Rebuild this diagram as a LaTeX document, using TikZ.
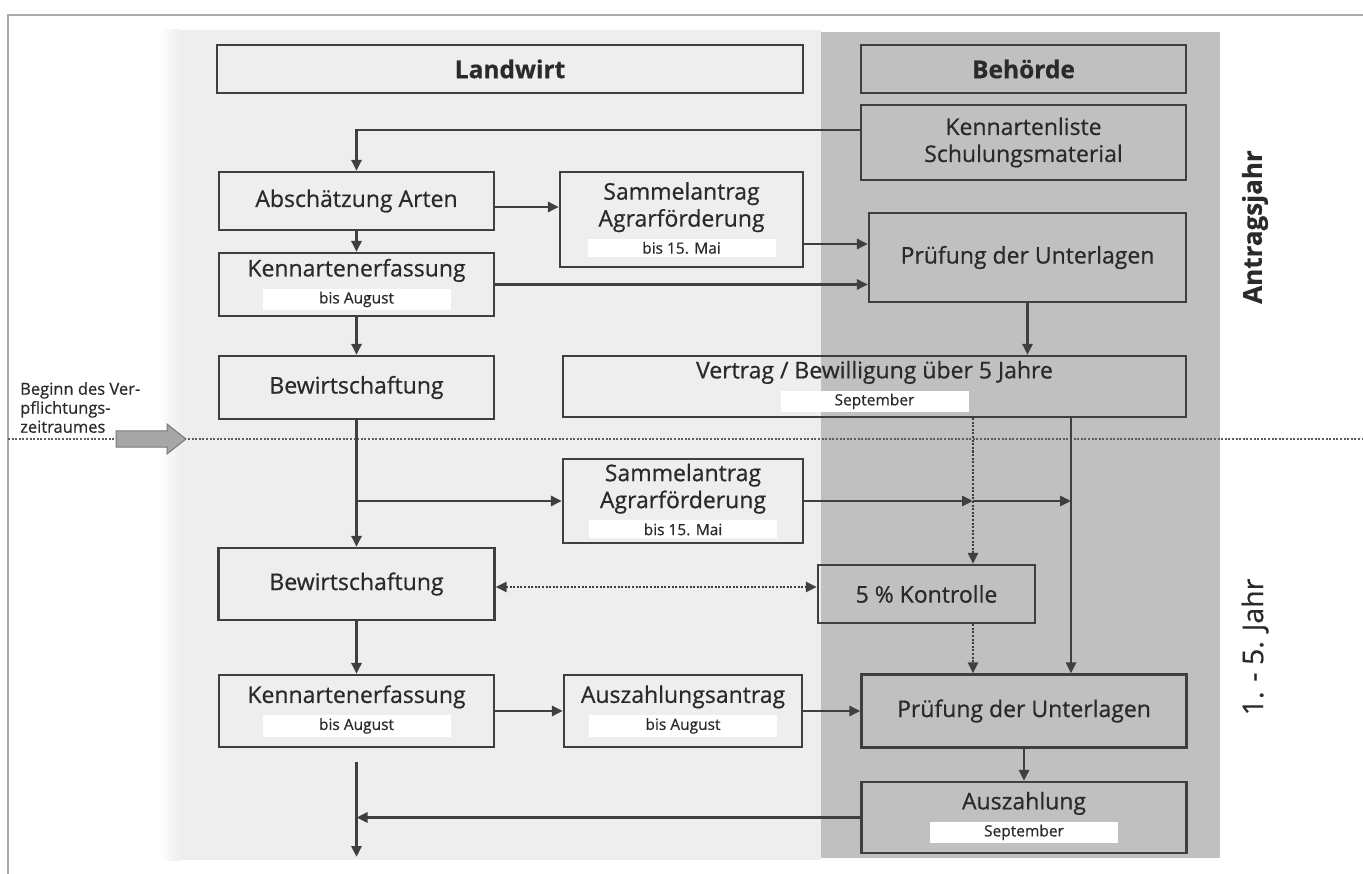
\documentclass[tikz,border=0pt]{standalone}
\usepackage{fontspec}
\setmainfont{Open Sans}[RawFeature={embolden=0.6}]
\usetikzlibrary{positioning, arrows.meta}

\definecolor{landgrau}{HTML}{EEEEEE}
\definecolor{amtgrau}{HTML}{C0C0C0}
\definecolor{linie}{HTML}{3F3F3F}
\definecolor{schrift}{HTML}{2A2A2A}
\definecolor{rahmen}{HTML}{ABABAB}
\definecolor{pfeilgrau}{HTML}{A6A6A6}

% weisser Balken fuer Termine
\newcommand{\datum}[1]{\colorbox{white}{\makebox[182pt]{\fontsize{15.5}{17}\selectfont #1}}}

\begin{document}
\begin{tikzpicture}[x=1pt,y=-1pt,on grid,
	box/.style={draw=linie,line width=2.2pt,text=schrift,align=center,inner sep=2pt,
		font=\fontsize{23}{27}\selectfont},
	kopf/.style={box,minimum height=48pt,font=\bfseries\fontsize{24.5}{28}\selectfont},
	flow/.style={draw=linie,line width=2.8pt,-{Triangle[length=11pt,width=10pt]}},
	dotflow/.style={flow,line width=2.4pt,dash pattern=on 2pt off 1.6pt},
	dotboth/.style={dotflow,{Triangle[length=11pt,width=10pt]}-{Triangle[length=11pt,width=10pt]}},
	trenner/.style={draw=linie!85,line width=2.6pt,dash pattern=on 2pt off 1.6pt}]
	
	\useasboundingbox (0,0) rectangle (1363,874);
	\draw[rahmen,line width=2pt] (8,874) -- (8,15) -- (1363,15);
	
	% Spalten Landwirt / Behoerde
	\shade[left color=white,right color=landgrau] (160,30) rectangle (180,860);
	\fill[landgrau] (180,30) rectangle (821,860);
	\fill[amtgrau] (821,32) rectangle (1220,858);
	
	% Beginn des Verpflichtungszeitraumes
	\coordinate (tlinks) at (8,439);
	\coordinate (trechts) at (1363,439);
	\draw[trenner] (tlinks) -- (trechts);
	\filldraw[fill=pfeilgrau,draw=linie!70,line width=1pt]
		(116,431) -- (167,431) -- (167,424) -- (186,439) -- (167,454) -- (167,447) -- (116,447) -- cycle;
	\node[anchor=north west,align=left,inner sep=0pt,text=schrift,
		font=\fontsize{16.5}{19}\selectfont] (beginn) at (20,382) {Beginn des Ver-\\pflichtungs-\\zeitraumes};
	
	\node[rotate=90,text=schrift,font=\bfseries\fontsize{26}{30}\selectfont] (antragsjahr) at (1255,227) {Antragsjahr};
	\node[rotate=90,text=schrift,font=\fontsize{28.5}{32}\selectfont] (laufzeit) at (1255,647) {1. - 5. Jahr};
	
	% Kopfzeilen
	\node[kopf,minimum width=586pt] (landwirt) at (510,69) {Landwirt};
	\node[kopf,minimum width=325pt] (behoerde) at (1023.5,69) {Behörde};
	
	% Antragsjahr
	\node[box,minimum width=325pt,minimum height=75pt] (liste) [below=73.5pt of behoerde] {Kennartenliste\\Schulungsmaterial};
	\node[box,minimum width=275pt,minimum height=58pt] (abs) at (356.5,201) {Abschätzung Arten};
	\node[box,minimum width=275pt,minimum height=63pt] (kenn1) [below=83.5pt of abs] {Kennartenerfassung\\\datum{bis August}};
	\node[box,minimum width=243pt,minimum height=95pt] (sam1) at (681.5,219.5) {Sammelantrag\\Agrarförderung\\\datum{bis 15. Mai}};
	\node[box,minimum width=317pt,minimum height=89pt] (pruef1) at (1027.5,257.5) {Prüfung der Unterlagen};
	\node[box,minimum width=275pt,minimum height=63pt] (bew1) [below=103pt of kenn1] {Bewirtschaftung};
	\node[box,minimum width=623pt,minimum height=61pt] (vertrag) at (874.5,386.5) {Vertrag / Bewilligung über 5 Jahre\\\datum{September}};
	
	% 1. - 5. Jahr
	\node[box,minimum width=240pt,minimum height=84pt] (sam2) at (683,501) {Sammelantrag\\Agrarförderung\\\datum{bis 15. Mai}};
	\node[box,minimum width=276pt,minimum height=72pt] (bew2) [below=196.5pt of bew1] {Bewirtschaftung};
	\node[box,minimum width=217pt,minimum height=58pt] (kontrolle) at (926.5,594) {5 \% Kontrolle};
	\node[box,minimum width=275pt,minimum height=72pt] (kenn2) [below=127pt of bew2] {Kennartenerfassung\\\datum{bis August}};
	\node[box,minimum width=238pt,minimum height=72pt] (antrag) [right=326.5pt of kenn2] {Auszahlungsantrag\\\datum{bis August}};
	\node[box,minimum width=325pt,minimum height=73pt] (pruef2) [right=341pt of antrag] {Prüfung der Unterlagen};
	\node[box,minimum width=325pt,minimum height=71pt] (zahlung) [below=106.5pt of pruef2] {Auszahlung\\\datum{September}};
	
	\coordinate (kdot) at (973,0);
	\coordinate (ksol) at (1071,0);
	\coordinate (weiter) at (356.5,857);
	
	% Antragsjahr
	\draw[flow] ([yshift=12.5pt]liste.west) -| (abs.north);
	\draw[flow] (abs.south) -- (kenn1.north);
	\draw[flow] ([yshift=-6pt]abs.east) -- ([yshift=12.5pt]sam1.west);
	\draw[flow] ([yshift=-24.5pt]sam1.east) -- ([yshift=13.5pt]pruef1.west);
	\draw[flow] (kenn1.east) -- ([yshift=-27pt]pruef1.west);
	\draw[flow] (pruef1.south) -- (pruef1.south |- vertrag.north);
	\draw[flow] (kenn1.south) -- (bew1.north);
	
	% 1. - 5. Jahr
	\draw[flow] (bew1.south) -- (bew2.north);
	\draw[flow] (bew1.south |- sam2.west) -- (sam2.west);
	\draw[flow] (sam2.east) -- (sam2.east -| kdot);
	\draw[flow] (sam2.east -| kdot) -- (sam2.east -| ksol);
	\draw[dotflow] (vertrag.south -| kdot) -- (kontrolle.north -| kdot);
	\draw[flow] (vertrag.south -| ksol) -- (pruef2.north -| ksol);
	\draw[dotboth] ([yshift=-3pt]bew2.east) -- ([yshift=7pt]kontrolle.west);
	\draw[dotflow] (kontrolle.south -| kdot) -- (pruef2.north -| kdot);
	\draw[flow] (bew2.south) -- (kenn2.north);
	\draw[flow] (kenn2.east) -- (antrag.west);
	\draw[flow] (antrag.east) -- (pruef2.west);
	\draw[flow] (pruef2.south) -- (zahlung.north);
	\draw[flow] (zahlung.west) -- (kenn2.south |- zahlung.west);
	\draw[flow] ([yshift=-14pt]kenn2.south) -- (kenn2.south |- weiter);
\end{tikzpicture}
\end{document}
